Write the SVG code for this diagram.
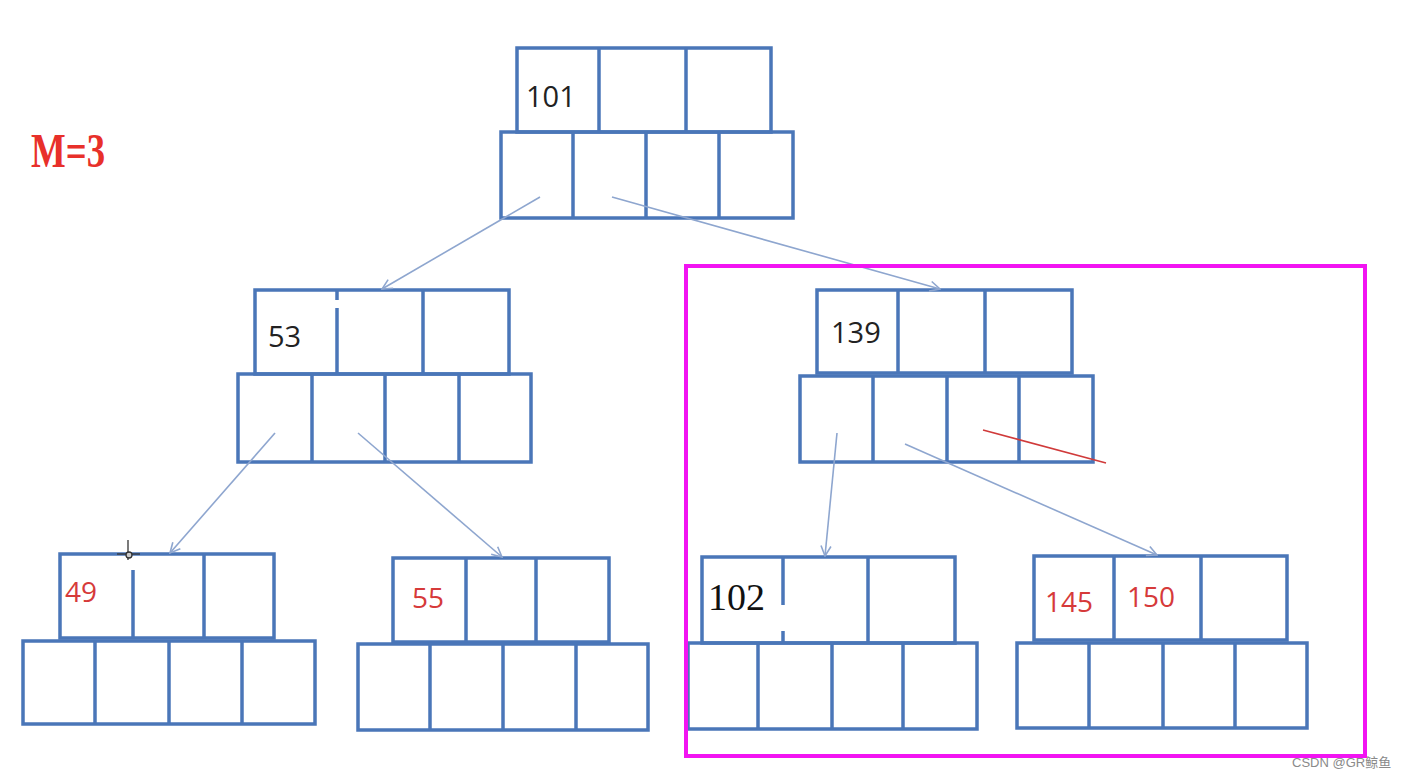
<svg xmlns="http://www.w3.org/2000/svg" width="1405" height="778" viewBox="0 0 1405 778">
<defs>
<style>
.box{fill:none;stroke:#4a76b8;stroke-width:3.5;stroke-linejoin:miter}
.dv{stroke:#4a76b8;stroke-width:3.5}
.con{stroke:#8ea6cf;stroke-width:1.6;fill:none;marker-end:url(#ah)}
.k{font-family:"Open Sans","Liberation Sans",sans-serif;font-size:29px;fill:#222}
.r{font-family:"Open Sans","Liberation Sans",sans-serif;font-size:28px;fill:#d63a3a}
</style>
<marker id="ah" viewBox="0 0 12 12" refX="11" refY="6" markerWidth="12" markerHeight="12" markerUnits="userSpaceOnUse" orient="auto">
<path d="M1,1 L11,6 L1,11" fill="none" stroke="#8ea6cf" stroke-width="1.6"/>
</marker>
</defs>
<rect width="1405" height="778" fill="#fff"/>

<text x="31" y="167" font-family="Liberation Serif,serif" font-weight="bold" font-size="48" fill="#e8302a" textLength="74" lengthAdjust="spacingAndGlyphs">M=3</text>

<g id="node-101">
<rect class="box" x="517" y="48" width="254" height="84"/>
<line class="dv" x1="599" y1="48" x2="599" y2="132"/>
<line class="dv" x1="686" y1="48" x2="686" y2="132"/>
<rect class="box" x="501" y="132" width="292" height="86"/>
<line class="dv" x1="573" y1="132" x2="573" y2="218"/>
<line class="dv" x1="646" y1="132" x2="646" y2="218"/>
<line class="dv" x1="719" y1="132" x2="719" y2="218"/>
<text class="k" x="526" y="107">101</text>
</g>

<g id="node-53">
<rect class="box" x="255" y="290" width="254" height="84"/>
<line class="dv" x1="337" y1="290" x2="337" y2="300"/>
<line class="dv" x1="337" y1="308" x2="337" y2="374"/>
<line class="dv" x1="423" y1="290" x2="423" y2="374"/>
<rect class="box" x="238" y="374" width="293" height="88"/>
<line class="dv" x1="312" y1="374" x2="312" y2="462"/>
<line class="dv" x1="385" y1="374" x2="385" y2="462"/>
<line class="dv" x1="459" y1="374" x2="459" y2="462"/>
<text class="k" x="268" y="347">53</text>
</g>

<g id="node-139">
<rect class="box" x="817" y="290" width="255" height="83"/>
<line class="dv" x1="898" y1="290" x2="898" y2="373"/>
<line class="dv" x1="985" y1="290" x2="985" y2="373"/>
<rect class="box" x="800" y="376" width="293" height="86"/>
<line class="dv" x1="873" y1="376" x2="873" y2="462"/>
<line class="dv" x1="947" y1="376" x2="947" y2="462"/>
<line class="dv" x1="1019" y1="376" x2="1019" y2="462"/>
<text class="k" x="831" y="343">139</text>
</g>

<g id="node-49">
<rect class="box" x="60" y="554" width="214" height="84"/>
<line class="dv" x1="133" y1="570" x2="133" y2="638"/>
<line class="dv" x1="204" y1="554" x2="204" y2="638"/>
<rect class="box" x="23" y="641" width="292" height="83"/>
<line class="dv" x1="95" y1="641" x2="95" y2="724"/>
<line class="dv" x1="169" y1="641" x2="169" y2="724"/>
<line class="dv" x1="242" y1="641" x2="242" y2="724"/>
<text class="r" x="65" y="602" font-size="27">49</text>
<g stroke="#333" stroke-width="1.3" fill="none">
<line x1="128" y1="540" x2="128" y2="560"/>
<line x1="117" y1="554" x2="140" y2="554"/>
<circle cx="129" cy="555" r="3" fill="#ccc"/>
</g>
</g>

<g id="node-55">
<rect class="box" x="393" y="558" width="216" height="84"/>
<line class="dv" x1="466" y1="558" x2="466" y2="642"/>
<line class="dv" x1="536" y1="558" x2="536" y2="642"/>
<rect class="box" x="358" y="644" width="290" height="86"/>
<line class="dv" x1="430" y1="644" x2="430" y2="730"/>
<line class="dv" x1="503" y1="644" x2="503" y2="730"/>
<line class="dv" x1="576" y1="644" x2="576" y2="730"/>
<text class="r" x="412" y="608" font-size="27">55</text>
</g>

<g id="node-102">
<rect class="box" x="702" y="557" width="253" height="86"/>
<line class="dv" x1="783" y1="557" x2="783" y2="605"/>
<line class="dv" x1="783" y1="631" x2="783" y2="643"/>
<line class="dv" x1="868" y1="557" x2="868" y2="643"/>
<rect class="box" x="688" y="643" width="289" height="86"/>
<line class="dv" x1="758" y1="643" x2="758" y2="729"/>
<line class="dv" x1="832" y1="643" x2="832" y2="729"/>
<line class="dv" x1="903" y1="643" x2="903" y2="729"/>
<text x="708" y="610" font-family="Liberation Serif,serif" font-size="38" fill="#111">102</text>
</g>

<g id="node-145-150">
<rect class="box" x="1034" y="556" width="253" height="84"/>
<line class="dv" x1="1114" y1="556" x2="1114" y2="640"/>
<line class="dv" x1="1201" y1="556" x2="1201" y2="640"/>
<rect class="box" x="1017" y="643" width="290" height="85"/>
<line class="dv" x1="1089" y1="643" x2="1089" y2="728"/>
<line class="dv" x1="1163" y1="643" x2="1163" y2="728"/>
<line class="dv" x1="1235" y1="643" x2="1235" y2="728"/>
<text class="r" x="1045" y="612" font-size="30">145</text>
<text class="r" x="1127" y="607" font-size="28">150</text>
</g>

<g id="connectors">
<line class="con" x1="540" y1="197" x2="382" y2="289"/>
<line class="con" x1="612" y1="197" x2="940" y2="289"/>
<line class="con" x1="275" y1="433" x2="170" y2="553"/>
<line class="con" x1="358" y1="433" x2="502" y2="557"/>
<line class="con" x1="837" y1="433" x2="825" y2="556"/>
<line class="con" x1="905" y1="444" x2="1157" y2="555"/>
</g>

<line x1="983" y1="430" x2="1106" y2="463" stroke="#d03a3a" stroke-width="1.5"/>

<rect x="686" y="266" width="679" height="490" fill="none" stroke="#f214f2" stroke-width="4"/>

<text x="1292" y="767" font-family="Liberation Sans,Noto Sans CJK SC,sans-serif" font-size="13" fill="#8a8a8a">CSDN @GR鲸鱼</text>
</svg>
